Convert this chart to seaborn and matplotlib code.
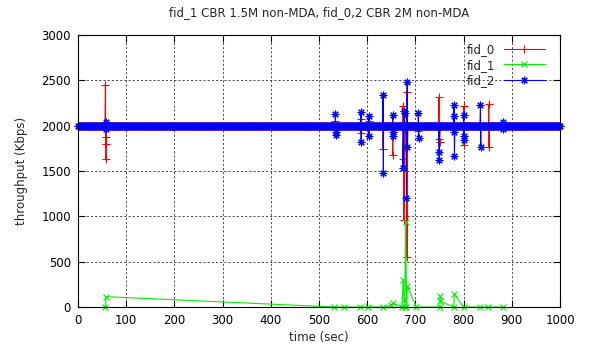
import matplotlib
matplotlib.use("Agg")
import matplotlib.pyplot as plt
import numpy as np
import pandas as pd
import seaborn as sns

# sampling grid of the steady ~2000 Kbps flows (fid_0, fid_2)
base_time = np.arange(0, 1001, 2)
base_rate = 2000

# deviations from the steady rate
fid0_spike_t = [57.0, 57.3, 57.6, 57.9, 534, 587, 587.5, 603, 633, 653, 653.5,
                674.6, 675.0, 676, 682, 682.5, 706, 749, 749.5, 750, 800, 800.5, 852, 852.5]
fid0_spike_v = [2449, 1875, 1802, 1627, 2048, 2073, 1923, 2055, 1748, 1678, 1930,
                2219, 1635, 960, 2373, 549, 1945, 2311, 1857, 1821, 2212, 1792, 2238, 1766]

fid2_spike_t = [57.2, 57.5, 534, 534.5, 535, 587, 587.5, 603, 603.5, 633, 633.5,
                653, 653.5, 654, 674, 677, 677.5, 681.5, 683, 683.5, 706, 706.5,
                749, 749.5, 780, 780.3, 780.6, 781, 800, 800.5, 801, 835, 835.5, 881, 881.5]
fid2_spike_v = [2040, 1960, 2128, 1927, 1901, 2146, 1825, 2110, 1890, 2336, 1481,
                2117, 1927, 1883, 1532, 2157, 2139, 1207, 2482, 1766, 2135, 1865,
                1708, 1616, 2230, 2102, 1934, 1660, 2117, 1883, 1843, 2227, 1770, 2040, 1960]

# fid_1 only has sparse samples
fid1_t = [57, 58, 532, 551, 586, 601, 633, 650, 653, 672, 674.6, 676.6, 678, 680,
          681.5, 683.5, 702, 751, 751.5, 752, 780, 780.5, 800, 833, 850, 881]
fid1_v = [0, 114, 0, 0, 0, 0, 0, 20, 44, 0, 300, 80, 0, 940,
          0, 227, 0, 0, 117, 62, 0, 146, 0, 0, 0, 0]


def build(spike_t, spike_v):
    df = pd.concat([
        pd.DataFrame({'time': base_time.astype(float), 'rate': float(base_rate)}),
        pd.DataFrame({'time': spike_t, 'rate': spike_v}),
    ])
    return df.sort_values('time', kind='stable').reset_index(drop=True)


fid0 = build(fid0_spike_t, fid0_spike_v)
fid2 = build(fid2_spike_t, fid2_spike_v)
fid1 = pd.DataFrame({'time': fid1_t, 'rate': fid1_v})

sns.set_style("ticks")
plt.rcParams['font.family'] = ['DejaVu Sans']
plt.rcParams['font.size'] = 8.5

fig = plt.figure(figsize=(5.9, 3.51), dpi=100)
ax = fig.add_axes([78 / 590, 44 / 351, 482 / 590, 272 / 351])

series = [
    (fid0, '#ff0000', '+', 6, 'fid_0'),
    (fid1, '#00f000', 'x', 4.5, 'fid_1'),
    (fid2, '#0000ff', (8, 2, 0), 5.5, 'fid_2'),
]
for df, col, mk, ms, name in series:
    sns.lineplot(data=df, x='time', y='rate', estimator=None, sort=False, ax=ax,
                 color=col, marker=mk, markersize=ms, markeredgewidth=0.8,
                 markeredgecolor=col, markerfacecolor=col,
                 linewidth=0.8, label=name, clip_on=False)

ax.set_xlim(0, 1000)
ax.set_ylim(0, 3000)
ax.set_xticks(range(0, 1001, 100))
ax.set_yticks(range(0, 3001, 500))
ax.tick_params(direction='in', top=True, right=True, length=5, width=0.8,
               labelsize=8.5, pad=5, colors='black')
ax.grid(True, color='black', linestyle=(0, (3, 3)), linewidth=0.5)
ax.set_axisbelow(True)
for s in ax.spines.values():
    s.set_color('black')
    s.set_linewidth(0.8)

ax.set_title('fid_1 CBR 1.5M non-MDA, fid_0,2 CBR 2M non-MDA', fontsize=8.5, pad=14)
ax.set_xlabel('time (sec)', fontsize=8.5, labelpad=3)
ax.set_ylabel('throughput (Kbps)', fontsize=8.5, labelpad=10)

leg = ax.legend(loc='upper right', bbox_to_anchor=(0.985, 1.0), frameon=False,
                markerfirst=False, fontsize=8.5, handlelength=3.4, labelspacing=0.2,
                handletextpad=0.8, borderaxespad=0.3, numpoints=1)

plt.savefig('out.png', dpi=100)
